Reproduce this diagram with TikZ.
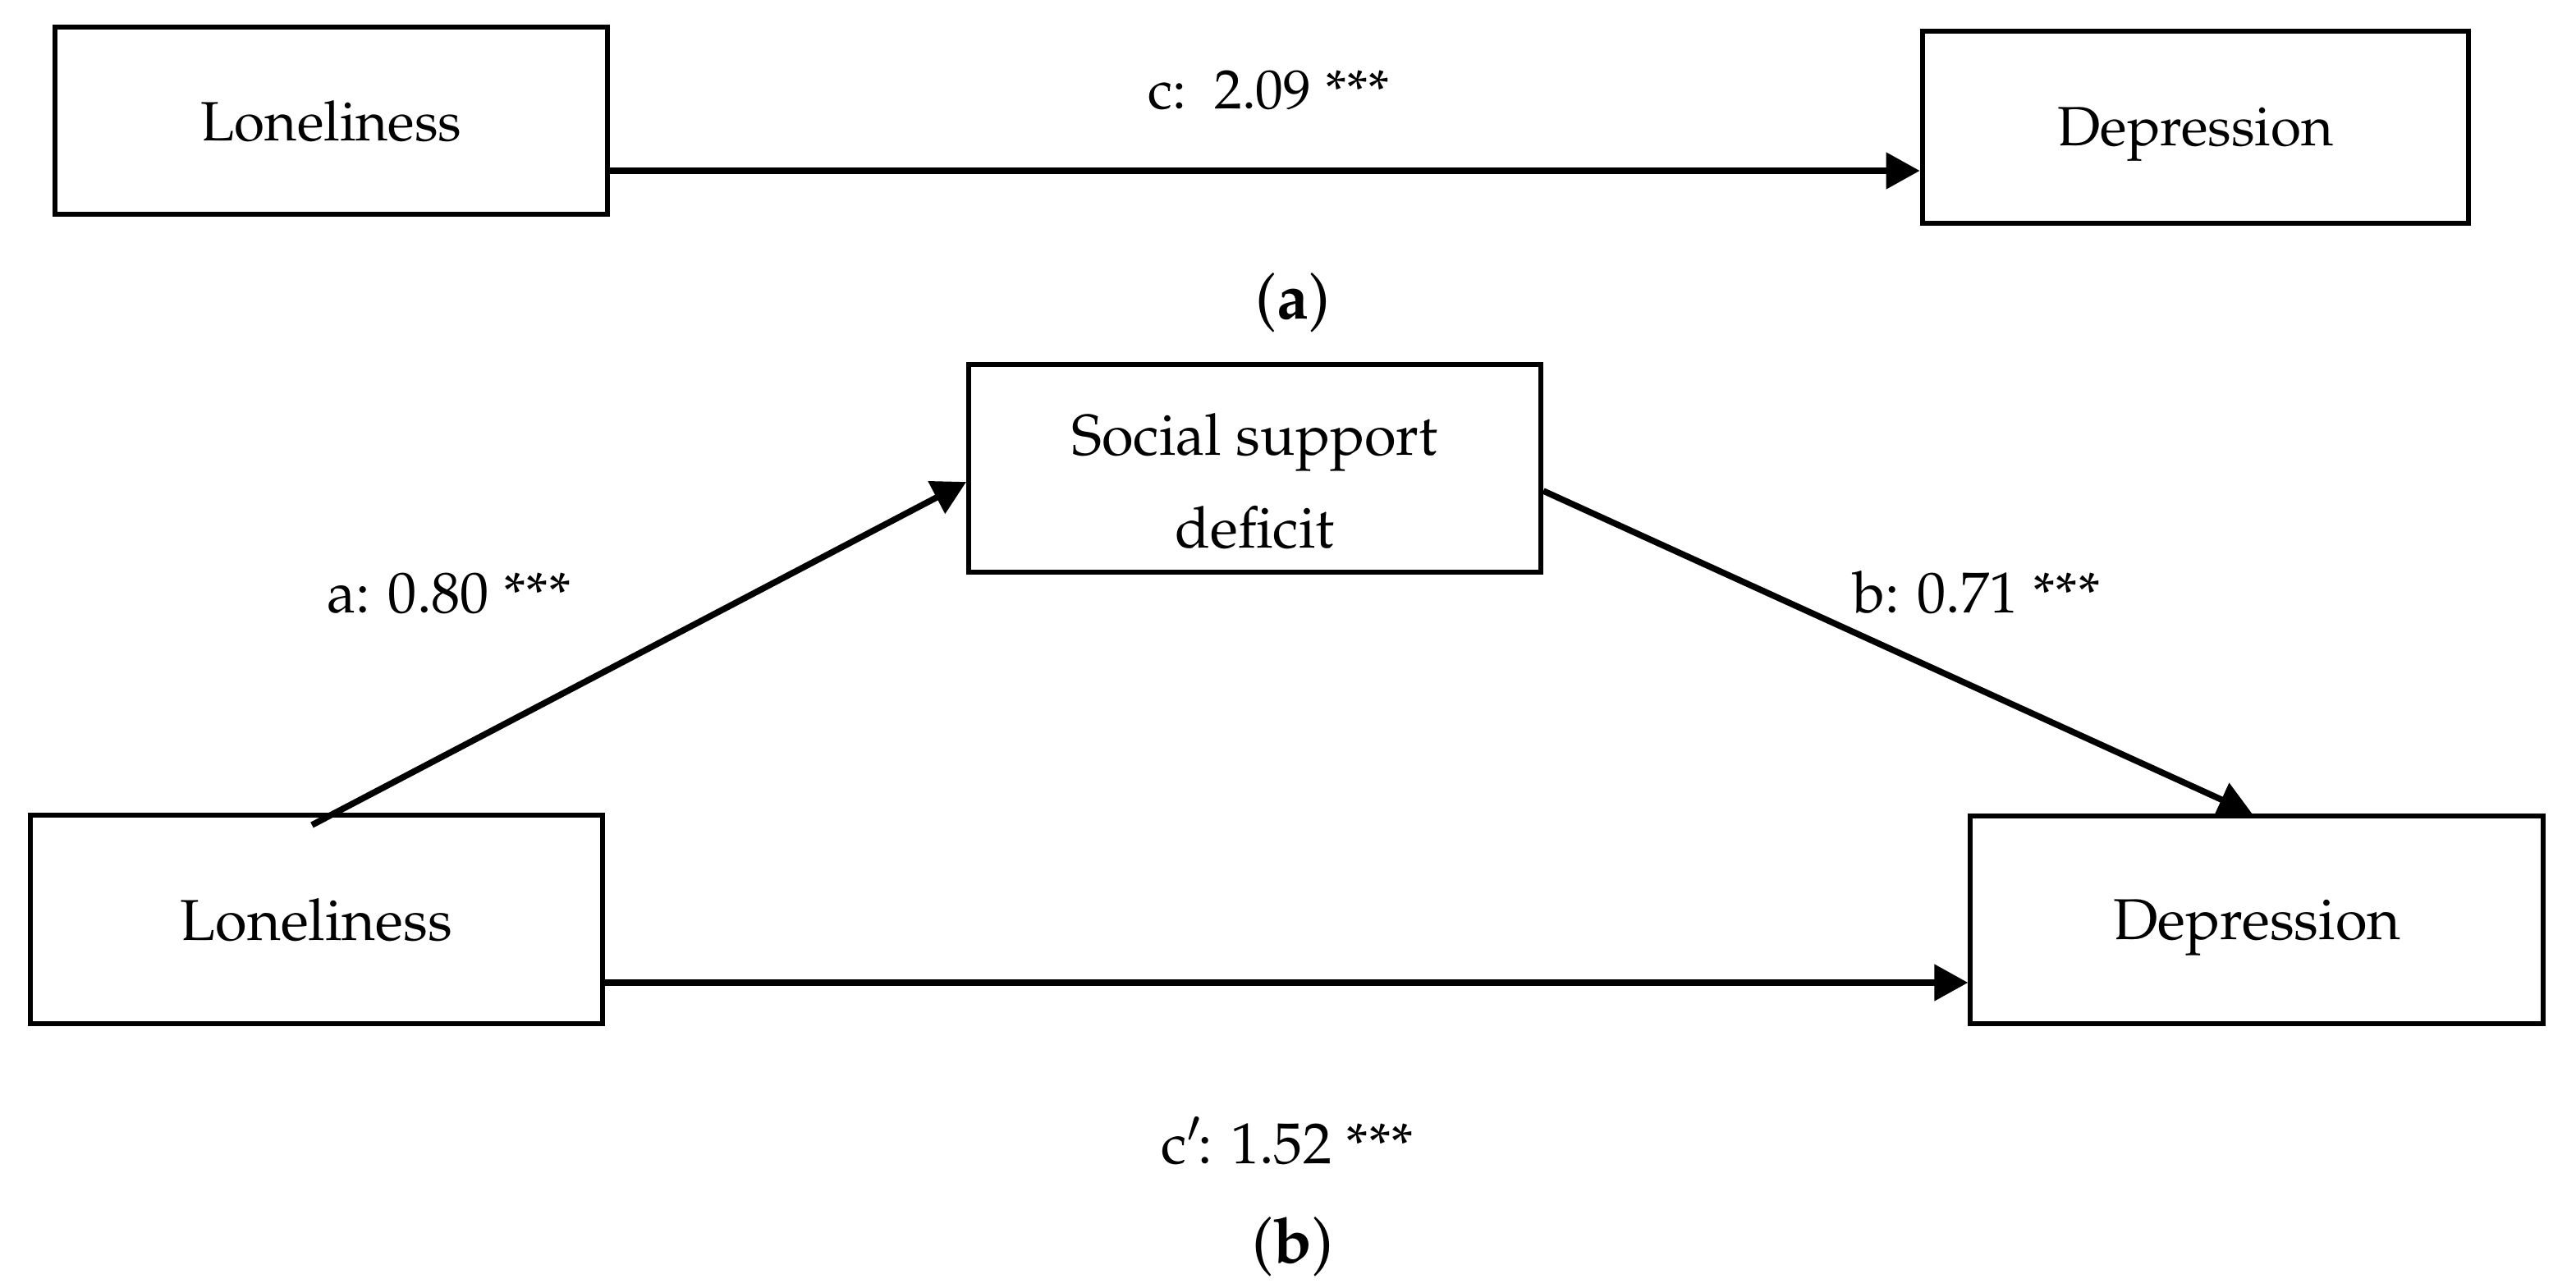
\documentclass[tikz,border=0pt]{standalone}
\usepackage[T1]{fontenc}
\usepackage{mathpazo}
\usetikzlibrary{arrows.meta}
\begin{document}
\begin{tikzpicture}[x=0.1mm,y=-0.1mm]
    \tikzstyle{box}=[draw,line width=0.3mm,fill=white,inner sep=0pt,font=\fontsize{10}{12}\selectfont]
    \tikzstyle{var}=[box,text depth=0pt]
    \tikzstyle{coef}=[anchor=base,inner sep=0pt,font=\fontsize{10}{12}\selectfont]
    \tikzstyle{effect}=[line width=0.38mm,-{Triangle[length=2.05mm,width=2.15mm]}]
    \useasboundingbox(0,0)rectangle(1569,784);
    % (a) total effect
    \draw node[var,minimum width=33.64mm,minimum height=11.43mm,font=\fontsize{9.6}{12}\selectfont](lonA)at(201.8,73.4){Loneliness}
          node[var,minimum width=33.27mm,minimum height=11.7mm,font=\fontsize{9.6}{12}\selectfont](depA)at(1337.2,77.3){Depression}
          node[coef,font=\fontsize{9.6}{12}\selectfont](cTot)at(773,66.3){c:\ \ 2.09 ***}
          node[coef,font=\fontsize{11}{13}\selectfont](capA)at(787.5,194){(\textbf{a})};
    \draw[effect](lonA.east|-0,104)--(depA.west|-0,104);
    % (b) mediation
    \draw node[box,minimum width=34.85mm,minimum height=12.65mm,align=center,font=\fontsize{10}{16}\selectfont](supp)at(764.3,285.3){\rule{0pt}{4.1mm}Social support\\deficit}
          node[var,minimum width=34.86mm,minimum height=12.66mm](lonB)at(192.7,560){Loneliness}
          node[var,minimum width=34.9mm,minimum height=12.66mm](depB)at(1374.7,560.3){Depression}
          node[coef](aPath)at(273.5,373){a: 0.80 ***}
          node[coef](bPath)at(1204,373){b: 0.71 ***}
          node[coef](cDir)at(784,708.5){c$'$\kern-0.8pt: 1.52 ***}
          node[coef,font=\fontsize{11}{13}\selectfont](capB)at(787.5,769){(\textbf{b})};
    \coordinate(aFrom)at(190,502.5);
    \draw[effect](aFrom)--(supp.west|-0,293.5);
    \draw[effect](supp.east|-0,299)--([xshift=-0.3mm]depB.north);
    \draw[effect](lonB.east|-0,598.5)--(depB.west|-0,598.5);
\end{tikzpicture}
\end{document}
